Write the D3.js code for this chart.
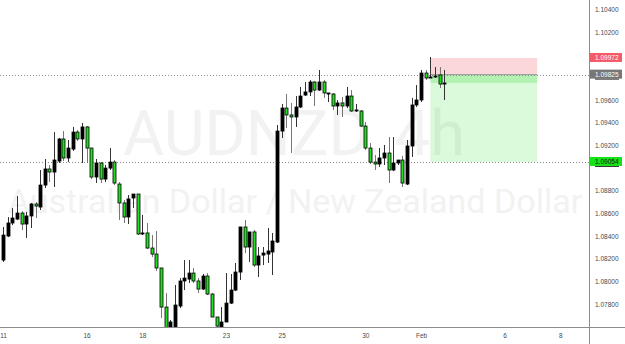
<!DOCTYPE html>
<html>
<head>
<meta charset="utf-8">
<script src="https://cdn.jsdelivr.net/npm/d3@7"></script>
<style>
  html, body { margin: 0; padding: 0; background: #fff; }
  svg { display: block; }
  text { font-family: "Liberation Sans", Arial, sans-serif; }
</style>
</head>
<body>
<div id="containerDiv"></div>
<script>
// AUDNZD 4h candles (one per 4 hours, 6 per day, from Jan 11)
const opens = [1.08188,1.08400,1.08515,1.08550,1.08603,1.08506,1.08577,1.08683,1.08656,1.08850,
  1.08992,1.08965,1.09062,1.09257,1.09089,1.09168,1.09318,1.09257,1.09363,1.09177,
  1.08921,1.09045,1.08903,1.09000,1.09053,1.08859,1.08692,1.08568,1.08736,1.08771,
  1.08418,1.08427,1.08294,1.08241,1.08118,1.07773,1.07588,1.07597,1.07782,1.08003,
  1.08020,1.08073,1.08003,1.07932,1.08047,1.07888,1.07685,1.07588,1.07641,1.07808,
  1.07923,1.08082,1.08480,1.08303,1.08436,1.08144,1.08232,1.08241,1.08259,1.08347,
  1.09327,1.09530,1.09469,1.09451,1.09539,1.09645,1.09672,1.09760,1.09689,1.09760,
  1.09654,1.09654,1.09548,1.09575,1.09548,1.09636,1.09504,1.09504,1.09371,1.09177,
  1.09053,1.09036,1.09089,1.09133,1.08983,1.09045,1.09071,1.08859,1.09195,1.09557,
  1.09601,1.09839,1.09795,1.09804,1.09822,1.09742];
const highs = [1.08480,1.08568,1.08647,1.08753,1.08621,1.08612,1.08692,1.08700,1.08983,1.09080,
  1.09027,1.09318,1.09265,1.09327,1.09248,1.09363,1.09336,1.09398,1.09371,1.09177,
  1.09080,1.09053,1.09027,1.09177,1.09071,1.08877,1.08718,1.08762,1.08771,1.08771,
  1.08586,1.08515,1.08409,1.08444,1.08118,1.07897,1.07658,1.07968,1.08029,1.08188,
  1.08188,1.08118,1.08029,1.08065,1.08073,1.07897,1.07685,1.07773,1.08073,1.08065,
  1.08162,1.08480,1.08541,1.08436,1.08453,1.08303,1.08303,1.08471,1.08427,1.09380,
  1.09566,1.09654,1.09575,1.09636,1.09716,1.09760,1.09778,1.09769,1.09866,1.09778,
  1.09663,1.09663,1.09601,1.09628,1.09716,1.09689,1.09566,1.09513,1.09407,1.09221,
  1.09115,1.09177,1.09204,1.09274,1.09274,1.09071,1.09107,1.09248,1.09619,1.09733,
  1.09866,1.09866,1.09981,1.09892,1.09892,1.09866];
const lows = [1.08171,1.08391,1.08497,1.08541,1.08453,1.08383,1.08471,1.08559,1.08630,1.08824,
  1.08877,1.08833,1.09045,1.09062,1.09053,1.09151,1.09239,1.09045,1.09045,1.08903,
  1.08868,1.08868,1.08877,1.08983,1.08850,1.08541,1.08515,1.08506,1.08647,1.08409,
  1.08409,1.08285,1.08215,1.08091,1.07676,1.07552,1.07526,1.07526,1.07764,1.07923,
  1.07985,1.07985,1.07897,1.07923,1.07879,1.07685,1.07588,1.07552,1.07641,1.07800,
  1.07914,1.08012,1.08250,1.08171,1.08126,1.08038,1.08144,1.08162,1.08056,1.08338,
  1.09265,1.09354,1.09133,1.09363,1.09530,1.09636,1.09636,1.09548,1.09681,1.09619,
  1.09583,1.09513,1.09469,1.09451,1.09530,1.09495,1.09495,1.09363,1.09159,1.09036,
  1.08983,1.09009,1.09027,1.08868,1.08974,1.09027,1.08833,1.08850,1.09098,1.09539,
  1.09583,1.09778,1.09795,1.09795,1.09707,1.09601];
const closes = [1.08409,1.08515,1.08559,1.08603,1.08506,1.08577,1.08683,1.08665,1.08850,1.08992,
  1.08965,1.09071,1.09257,1.09089,1.09177,1.09318,1.09257,1.09363,1.09177,1.08921,
  1.09045,1.08903,1.09000,1.09053,1.08868,1.08692,1.08568,1.08727,1.08771,1.08418,
  1.08427,1.08294,1.08241,1.08118,1.07773,1.07588,1.07641,1.07791,1.08003,1.08029,
  1.08073,1.08003,1.07932,1.08047,1.07888,1.07685,1.07605,1.07641,1.07808,1.07923,
  1.08082,1.08480,1.08303,1.08436,1.08144,1.08224,1.08250,1.08268,1.08356,1.09327,
  1.09530,1.09469,1.09451,1.09539,1.09636,1.09672,1.09760,1.09689,1.09760,1.09663,
  1.09663,1.09548,1.09575,1.09548,1.09636,1.09504,1.09513,1.09371,1.09177,1.09053,
  1.09036,1.09089,1.09133,1.08983,1.09045,1.09071,1.08868,1.09195,1.09557,1.09601,
  1.09839,1.09795,1.09804,1.09813,1.09742,1.09751];

// x axis day labels and the candle index where each day starts
const dayLabels = ["11", "16", "18", "23", "25", "30", "Feb", "6", "8"];
const dayIndex = [0, 18, 30, 48, 60, 78, 90, 108, 120];

// price axis ticks (1.098, 1.090 and 1.100 are hidden behind the price labels)
const priceTicks = [1.078, 1.080, 1.082, 1.084, 1.086, 1.088, 1.092, 1.094, 1.096, 1.102, 1.104];

// short position tool: entry, stop, target, drawn from candle 92 to 115
const entryPrice = 1.09825;
const stopPrice = 1.09972;
const targetPrice = 1.09054;
const posStart = 92, posEnd = 115;

const W = 625, H = 344;
const paneRight = 589, paneBottom = 327;

let svg = d3.select("#containerDiv").append("svg")
  .attr("width", W).attr("height", H);

let xScale = d3.scaleLinear().domain([0, 120]).range([3, 560.4]);
let yScale = d3.scaleLinear().domain([1.078, 1.104]).range([304, 9.5]);

svg.append("defs").append("clipPath").attr("id", "clip")
  .append("rect").attr("x", 0).attr("y", 0).attr("width", paneRight).attr("height", paneBottom);

// watermark
let wm = svg.append("g").attr("fill", "#f2f2f2").attr("text-anchor", "middle");
wm.append("text").attr("x", 294).attr("y", 155)
  .style("font-family", "Roboto, sans-serif").style("font-size", "63px").text("AUDNZD, 4h");
wm.append("text").attr("x", 295).attr("y", 213)
  .style("font-family", "Roboto, sans-serif").style("font-size", "34px").text("Australian Dollar / New Zealand Dollar");

// position boxes (semi transparent, watermark shows through)
let pos = svg.append("g").attr("clip-path", "url(#clip)");
let px0 = xScale(posStart), px1 = xScale(posEnd);
pos.append("rect").attr("x", px0).attr("width", px1 - px0)
  .attr("y", yScale(stopPrice)).attr("height", yScale(entryPrice) - yScale(stopPrice))
  .attr("fill", "#f23645").attr("fill-opacity", 0.2);
pos.append("rect").attr("x", px0).attr("width", px1 - px0)
  .attr("y", yScale(entryPrice)).attr("height", yScale(targetPrice) - yScale(entryPrice))
  .attr("fill", "#00d300").attr("fill-opacity", 0.14);
let lastClose = closes[closes.length - 1];
pos.append("rect").attr("x", px0).attr("width", px1 - px0)
  .attr("y", yScale(entryPrice)).attr("height", yScale(lastClose) - yScale(entryPrice))
  .attr("fill", "#00d300").attr("fill-opacity", 0.18);
pos.append("line").attr("x1", px0).attr("x2", px1)
  .attr("y1", yScale(entryPrice)).attr("y2", yScale(entryPrice))
  .attr("stroke", "#9a9a9a").attr("stroke-width", 1);

// dotted horizontal lines
[entryPrice, targetPrice].forEach((p) => {
  svg.append("line").attr("x1", 0).attr("x2", paneRight)
    .attr("y1", Math.round(yScale(p)) + 0.5).attr("y2", Math.round(yScale(p)) + 0.5)
    .attr("stroke", "#8a8a8a").attr("stroke-dasharray", "1,2");
});

// candles
let chartBody = svg.append("g").attr("clip-path", "url(#clip)");
let candles = opens.map((o, i) => ({ i: i, o: o, h: highs[i], l: lows[i], c: closes[i] }));
const green = "#22dd22";

chartBody.selectAll(".stem").data(candles).enter().append("line")
  .attr("class", "stem")
  .attr("x1", (d) => Math.round(xScale(d.i)) + 0.5)
  .attr("x2", (d) => Math.round(xScale(d.i)) + 0.5)
  .attr("y1", (d) => yScale(d.h))
  .attr("y2", (d) => yScale(d.l))
  .attr("stroke", (d) => (d.c >= d.o ? "#333" : "#777"));

chartBody.selectAll(".candle").data(candles).enter().append("rect")
  .attr("class", "candle")
  .attr("x", (d) => Math.round(xScale(d.i)) - 1)
  .attr("width", 3)
  .attr("y", (d) => yScale(Math.max(d.o, d.c)))
  .attr("height", (d) => Math.max(1, Math.abs(yScale(d.o) - yScale(d.c))))
  .attr("fill", (d) => (d.c >= d.o ? "#000" : green))
  .attr("stroke", "#000").attr("stroke-width", 0.8);

// axis lines
svg.append("line").attr("x1", 0).attr("x2", W).attr("y1", paneBottom + 0.5).attr("y2", paneBottom + 0.5)
  .attr("stroke", "#8c8c8c");
svg.append("line").attr("x1", paneRight + 0.5).attr("x2", paneRight + 0.5).attr("y1", 0).attr("y2", H)
  .attr("stroke", "#8c8c8c");

// price axis
let yAxis = d3.axisRight(yScale).tickValues(priceTicks).tickSize(0).tickPadding(6)
  .tickFormat((d) => d.toFixed(5));
let gY = svg.append("g").attr("transform", `translate(${paneRight},0)`).call(yAxis);
gY.select(".domain").remove();
gY.selectAll("text").style("font-size", "6.5px").attr("fill", "#4a4a4a");

// time axis
let xAxis = d3.axisBottom(xScale).tickValues(dayIndex).tickSize(0).tickPadding(6)
  .tickFormat((d, i) => dayLabels[i]);
let gX = svg.append("g").attr("transform", `translate(0,${paneBottom})`).call(xAxis);
gX.select(".domain").remove();
gX.selectAll("text").style("font-size", "6.5px").attr("fill", "#4a4a4a");

// price labels on the axis
const labels = [
  { p: stopPrice, fill: "#f45b69", text: "#fff" },
  { p: entryPrice, fill: "#777777", text: "#fff" },
  { p: targetPrice, fill: "#16e316", text: "#111" },
];
labels.forEach((lb) => {
  let cy = yScale(lb.p) - 0.5;
  svg.append("rect").attr("x", paneRight + 1).attr("y", cy - 4.5)
    .attr("width", 32).attr("height", 9).attr("fill", lb.fill);
  // thin dark edge under the label, as in the reference
  svg.append("rect").attr("x", paneRight + 6).attr("y", cy + 4.5)
    .attr("width", 24).attr("height", 1).attr("fill", lb.fill === "#f45b69" ? "none" : "#333");
  svg.append("text").attr("x", paneRight + 6).attr("y", cy)
    .attr("dominant-baseline", "central")
    .style("font-size", "6.5px").attr("fill", lb.text).text(lb.p.toFixed(5));
});
</script>
</body>
</html>
